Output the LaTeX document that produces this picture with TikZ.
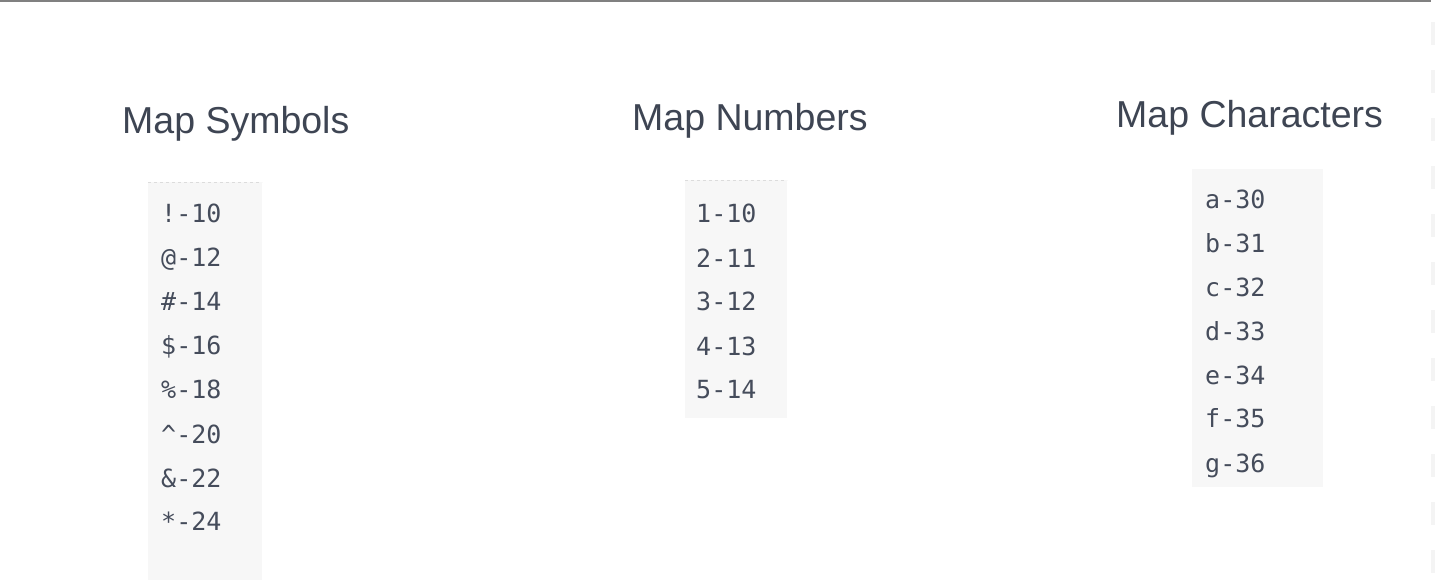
\documentclass[tikz,border=0pt]{standalone}
\usepackage{fontspec}
\setmainfont{Liberation Sans}
\newfontfamily\codefont{DejaVu Sans Mono}
\definecolor{titlecol}{HTML}{3E4553}
\definecolor{codecol}{HTML}{454C5B}
\definecolor{boxbg}{HTML}{F7F7F7}
\definecolor{dashcol}{HTML}{DCDCDC}
\definecolor{edgecol}{HTML}{F4F4F4}
\begin{document}
\begin{tikzpicture}[x=1pt,y=-1pt,
  titletext/.style={anchor=base west,inner sep=0pt,text=titlecol,font=\fontsize{37.5}{40}\selectfont},
  codeline/.style={anchor=base west,inner sep=0pt,text=codecol,font=\codefont\fontsize{25}{27}\selectfont},
  codebox/.style={fill=boxbg,draw=none},
  topdash/.style={draw=dashcol,dash pattern=on 3pt off 3pt,line width=0.8pt}]
\useasboundingbox (0,0) rectangle (1435,586);
\fill[white] (0,0) rectangle (1435,586);
% top rule
\draw[gray,line width=1.8pt] (0,0.9) -- (1431,0.9);
% right-edge faint dashes
\foreach \y in {22,70,118,166,214,262,310,358,406,454,502,550}
  \fill[edgecol] (1431,\y) rectangle (1435,\y+23);

% titles
\node[titletext] (t1) at (122,133) {Map Symbols};
\node[titletext] (t2) at (632,130) {Map Numbers};
\node[titletext] (t3) at (1116,127) {Map Characters};

% boxes
\fill[codebox] (148,182) rectangle (262,580);
\draw[topdash] (148,182) -- (262,182);
\fill[codebox] (685,180) rectangle (787,418);
\draw[topdash] (685,180) -- (787,180);
\fill[codebox] (1192,169) rectangle (1323,487);

% box 1
\node[codeline] (s1) at (161,222) {!-10};
\node[codeline] (s2) at (161,266) {@-12};
\node[codeline] (s3) at (161,310) {\#-14};
\node[codeline] (s4) at (161,354) {\$-16};
\node[codeline] (s5) at (161,398) {\%-18};
\node[codeline] (s6) at (161,443) {\string^-20};
\node[codeline] (s7) at (161,487) {\&-22};
\node[codeline] (s8) at (161,530) {*-24};

% box 2
\node[codeline] (n1) at (696,222) {1-10};
\node[codeline] (n2) at (696,267) {2-11};
\node[codeline] (n3) at (696,310) {3-12};
\node[codeline] (n4) at (696,355) {4-13};
\node[codeline] (n5) at (696,398) {5-14};

% box 3
\node[codeline] (c1) at (1205,208) {a-30};
\node[codeline] (c2) at (1205,252) {b-31};
\node[codeline] (c3) at (1205,296) {c-32};
\node[codeline] (c4) at (1205,340) {d-33};
\node[codeline] (c5) at (1205,384) {e-34};
\node[codeline] (c6) at (1205,427) {f-35};
\node[codeline] (c7) at (1205,472) {g-36};
\end{tikzpicture}
\end{document}
